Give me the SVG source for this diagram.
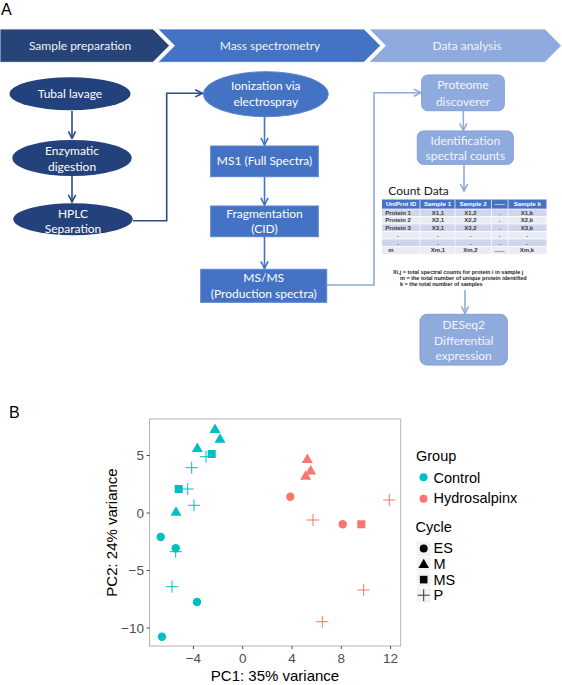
<svg xmlns="http://www.w3.org/2000/svg" width="562" height="685" viewBox="0 0 562 685">
<defs>
<style>
.lab{font-family:Lato,"Open Sans","Liberation Sans",sans-serif;font-size:12px;fill:#ffffff;text-anchor:middle}
.lab2{font-family:Lato,"Open Sans","Liberation Sans",sans-serif;font-size:12px;fill:#F2F5FB;text-anchor:middle}
.hdr{font-family:Lato,"Open Sans","Liberation Sans",sans-serif;font-size:12px;fill:#F0F3FA;text-anchor:middle}
.tb{font-family:"Liberation Sans",Arial,sans-serif;font-size:6px;fill:#3a3a3a;font-weight:bold;text-anchor:middle}
.th{font-family:"Liberation Sans",Arial,sans-serif;font-size:6.2px;fill:#fff;font-weight:bold;text-anchor:middle}
.fn{font-family:"Liberation Sans",Arial,sans-serif;font-size:5.5px;fill:#222;font-weight:bold}
.tick{font-family:"Liberation Sans",Arial,sans-serif;font-size:13.5px;fill:#4D4D4D}
.ttl{font-family:"Liberation Sans",Arial,sans-serif;font-size:15px;fill:#000;text-anchor:middle}
.leg{font-family:"Liberation Sans",Arial,sans-serif;font-size:14.5px;fill:#000}
.dk{fill:#23417A}
.md{fill:#4472C4;stroke:#5B84CC;stroke-width:1}
.lt{fill:#8FAADC;stroke:#7F9DD6;stroke-width:1}
.cdk{fill:none;stroke:#2B4A86;stroke-width:1.6}
.cmd{fill:none;stroke:#4472C4;stroke-width:1.6}
.clt{fill:none;stroke:#8FAADC;stroke-width:1.6}
.cy{fill:#00BFC4}
.rd{fill:#F8766D}
.cyp{stroke:#00BFC4;stroke-width:1;fill:none}
.rdp{stroke:#F8766D;stroke-width:1;fill:none}
</style>
<marker id="adk" viewBox="0 0 10 10" refX="9" refY="5" markerWidth="9" markerHeight="9" markerUnits="userSpaceOnUse" orient="auto"><path d="M1,1 L9,5 L1,9" fill="none" stroke="#2B4A86" stroke-width="1.8"/></marker>
<marker id="amd" viewBox="0 0 10 10" refX="9" refY="5" markerWidth="9" markerHeight="9" markerUnits="userSpaceOnUse" orient="auto"><path d="M1,1 L9,5 L1,9" fill="none" stroke="#4472C4" stroke-width="1.8"/></marker>
<marker id="alt" viewBox="0 0 10 10" refX="9" refY="5" markerWidth="9" markerHeight="9" markerUnits="userSpaceOnUse" orient="auto"><path d="M1,1 L9,5 L1,9" fill="none" stroke="#8FAADC" stroke-width="1.8"/></marker>
</defs>
<rect width="562" height="685" fill="#ffffff"/>
<text x="1" y="15" font-family="'Liberation Sans',Arial,sans-serif" font-size="16" fill="#000">A</text>
<text x="9" y="418" font-family="'Liberation Sans',Arial,sans-serif" font-size="16" fill="#000">B</text>

<g id="banner">
<g id="chev-sample"><polygon points="0,29 153,29 169.5,45.7 153,62.3 0,62.3" fill="#264478" stroke="#ffffff" stroke-width="0.8"/><text class="hdr" x="80" y="49.8">Sample preparation</text></g>
<g id="chev-ms"><polygon points="158,29 364,29 380.5,45.7 364,62.3 158,62.3 174.5,45.7" fill="#4472C4" stroke="#ffffff" stroke-width="0.8"/><text class="hdr" x="270" y="49.8">Mass spectrometry</text></g>
<g id="chev-data"><polygon points="369,29 545,29 561.5,45.7 545,62.3 369,62.3 385.5,45.7" fill="#8FAADC" stroke="#ffffff" stroke-width="0.8"/><text class="hdr" x="467" y="49.8">Data analysis</text></g>
</g>

<g id="connectors">
<line class="cdk" x1="72" y1="111" x2="72" y2="138.5" marker-end="url(#adk)"/>
<line class="cdk" x1="72" y1="176" x2="72" y2="202" marker-end="url(#adk)"/>
<polyline class="cdk" points="133,220.7 166.7,220.7 166.7,93.3 202.5,93.3" marker-end="url(#adk)"/>
<line class="cmd" x1="264.5" y1="117" x2="264.5" y2="145" marker-end="url(#amd)"/>
<line class="cmd" x1="264.5" y1="177" x2="264.5" y2="205" marker-end="url(#amd)"/>
<line class="cmd" x1="264.5" y1="237" x2="264.5" y2="268.5" marker-end="url(#amd)"/>
<polyline class="clt" points="326.7,285 374,285 374,92.7 421,92.7" marker-end="url(#alt)"/>
<line class="clt" x1="463.3" y1="111" x2="463.3" y2="130.5" marker-end="url(#alt)"/>
<line class="clt" x1="464" y1="164.5" x2="464" y2="191" marker-end="url(#alt)"/>
<line class="clt" x1="465" y1="290" x2="465" y2="313.5" marker-end="url(#alt)"/>
</g>

<g id="n-tubal"><ellipse class="dk" cx="70" cy="93.7" rx="60.5" ry="16.5"/><text class="lab" x="70" y="97.8">Tubal lavage</text></g>
<g id="n-enzymatic"><ellipse class="dk" cx="72" cy="158" rx="59.7" ry="18"/><text class="lab" x="72" y="155">Enzymatic</text><text class="lab" x="72" y="171">digestion</text></g>
<g id="n-hplc"><ellipse class="dk" cx="73" cy="219.2" rx="59.7" ry="16"/><text class="lab" x="73" y="218">HPLC</text><text class="lab" x="73" y="232.5">Separation</text></g>

<g id="n-ionization"><ellipse cx="265.8" cy="94.2" rx="62.5" ry="22.5" fill="#4472C4" stroke="#5B84CC"/><text class="lab" x="265.8" y="90.2">Ionization via</text><text class="lab" x="265.8" y="106.4">electrospray</text></g>
<g id="n-ms1"><rect class="md" x="210.7" y="146" width="107.6" height="30.7"/><text class="lab" x="264.5" y="165">MS1 (Full Spectra)</text></g>
<g id="n-frag"><rect class="md" x="210.7" y="206" width="107.6" height="30.7"/><text class="lab" x="264.5" y="217.5">Fragmentation</text><text class="lab" x="264.5" y="233">(CID)</text></g>
<g id="n-msms"><rect class="md" x="200.7" y="269.3" width="126" height="33"/><text class="lab" x="263.7" y="282.4">MS/MS</text><text class="lab" x="263.7" y="298">(Production spectra)</text></g>

<g id="n-proteome"><rect class="lt" x="421.7" y="75" width="82.6" height="35.7" rx="6"/><text class="lab2" x="463" y="89.2">Proteome</text><text class="lab2" x="463" y="105.8">discoverer</text></g>
<g id="n-ident"><rect class="lt" x="417.3" y="131" width="96" height="33.3" rx="6"/><text class="lab2" x="465.3" y="144.8">Identification</text><text class="lab2" x="465.3" y="160.2">spectral counts</text></g>

<g id="n-countdata">
<text x="388.3" y="195" font-family="Lato,'Open Sans','Liberation Sans',sans-serif" font-size="12" fill="#1a1a1a">Count Data</text>
<rect x="382" y="199.5" width="164.5" height="9.5" fill="#4472C4"/>
<rect x="382" y="209" width="164.5" height="7.5" fill="#CFD5EA"/>
<rect x="382" y="216.5" width="164.5" height="7.5" fill="#E9EBF5"/>
<rect x="382" y="224" width="164.5" height="7.5" fill="#CFD5EA"/>
<rect x="382" y="231.5" width="164.5" height="7.5" fill="#E9EBF5"/>
<rect x="382" y="239" width="164.5" height="7.5" fill="#CFD5EA"/>
<rect x="382" y="246.5" width="164.5" height="7.5" fill="#E9EBF5"/>
<g stroke="#ffffff" stroke-width="0.7">
<line x1="382" y1="209" x2="546.5" y2="209"/><line x1="382" y1="216.5" x2="546.5" y2="216.5"/><line x1="382" y1="224" x2="546.5" y2="224"/><line x1="382" y1="231.5" x2="546.5" y2="231.5"/><line x1="382" y1="239" x2="546.5" y2="239"/><line x1="382" y1="246.5" x2="546.5" y2="246.5"/>
<line x1="420" y1="199.5" x2="420" y2="254"/><line x1="455" y1="199.5" x2="455" y2="254"/><line x1="491.5" y1="199.5" x2="491.5" y2="254"/><line x1="508" y1="199.5" x2="508" y2="254"/>
</g>
<text class="th" x="401" y="206.2">UniProt ID</text><text class="th" x="437.5" y="206.2">Sample 1</text><text class="th" x="473" y="206.2">Sample 2</text><text class="th" x="499.7" y="206.2">-----</text><text class="th" x="527.3" y="206.2">Sample k</text>
<text class="tb" x="398" y="214.8">Protein 1</text><text class="tb" x="438" y="214.8">X1,1</text><text class="tb" x="470.5" y="214.8">X1,2</text><text class="tb" x="499.7" y="214.8">.</text><text class="tb" x="527" y="214.8">X1,k</text>
<text class="tb" x="398" y="222.3">Protein 2</text><text class="tb" x="438" y="222.3">X2,1</text><text class="tb" x="470.5" y="222.3">X2,2</text><text class="tb" x="499.7" y="222.3">.</text><text class="tb" x="527" y="222.3">X2,k</text>
<text class="tb" x="398" y="229.8">Protein 3</text><text class="tb" x="438" y="229.8">X3,1</text><text class="tb" x="470.5" y="229.8">X3,2</text><text class="tb" x="499.7" y="229.8">.</text><text class="tb" x="527" y="229.8">X3,k</text>
<text class="tb" x="398" y="237.3">.</text><text class="tb" x="438" y="237.3">.</text><text class="tb" x="470.5" y="237.3">.</text><text class="tb" x="499.7" y="237.3">.</text><text class="tb" x="527" y="237.3">.</text>
<text class="tb" x="398" y="244.8">.</text><text class="tb" x="438" y="244.8">.</text><text class="tb" x="470.5" y="244.8">.</text><text class="tb" x="499.7" y="244.8">.</text><text class="tb" x="527" y="244.8">.</text>
<text class="tb" x="391" y="252.3">m</text><text class="tb" x="438" y="252.3">Xm,1</text><text class="tb" x="470.5" y="252.3">Xm,2</text><text class="tb" x="499.7" y="252.3">......</text><text class="tb" x="527" y="252.3">Xm,k</text>
<text class="fn" x="393" y="274">Xi,j = total spectral counts for protein i in sample j</text>
<text class="fn" x="400" y="280">m = the total number of unique protein identified</text>
<text class="fn" x="400" y="286">k = the total number of samples</text>
</g>

<g id="n-deseq"><rect class="lt" x="420" y="314.3" width="87.3" height="50.7" rx="7"/><text class="lab2" x="463.7" y="329.2">DESeq2</text><text class="lab2" x="463.7" y="344.8">Differential</text><text class="lab2" x="463.7" y="360.2">expression</text></g>

<g id="pca-plot">
<rect x="149.5" y="419" width="251.2" height="227" fill="#ffffff" stroke="#B3B3B3" stroke-width="1"/>
<g stroke="#4D4D4D" stroke-width="1">
<line x1="146.5" y1="455.5" x2="149.5" y2="455.5"/><line x1="146.5" y1="513" x2="149.5" y2="513"/><line x1="146.5" y1="570.5" x2="149.5" y2="570.5"/><line x1="146.5" y1="628" x2="149.5" y2="628"/>
<line x1="193.4" y1="646" x2="193.4" y2="649"/><line x1="242.7" y1="646" x2="242.7" y2="649"/><line x1="292" y1="646" x2="292" y2="649"/><line x1="341.3" y1="646" x2="341.3" y2="649"/><line x1="390.6" y1="646" x2="390.6" y2="649"/>
</g>
<g class="tick" text-anchor="end">
<text x="144" y="460.3">5</text><text x="144" y="517.8">0</text><text x="144" y="575.3">−5</text><text x="144" y="632.8">−10</text>
</g>
<g class="tick" text-anchor="middle">
<text x="193.4" y="663">−4</text><text x="242.7" y="663">0</text><text x="292" y="663">4</text><text x="341.3" y="663">8</text><text x="390.6" y="663">12</text>
</g>
<text class="ttl" x="275" y="681">PC1: 35% variance</text>
<text class="ttl" transform="translate(116.5,532.5) rotate(-90)">PC2: 24% variance</text>

<g id="pts-control">
<polygon class="cy" points="215,423.5 209.5,433 220.5,433"/>
<polygon class="cy" points="220,433.2 214.5,442.7 225.5,442.7"/>
<polygon class="cy" points="197.3,442.5 191.8,452 202.8,452"/>
<polygon class="cy" points="176,506.2 170.5,515.7 181.5,515.7"/>
<rect class="cy" x="207.7" y="450" width="8" height="8"/>
<rect class="cy" x="174.7" y="485" width="8" height="8"/>
<circle class="cy" cx="160.7" cy="537" r="4.2"/>
<circle class="cy" cx="175.7" cy="548.3" r="4.2"/>
<circle class="cy" cx="197" cy="602" r="4.2"/>
<circle class="cy" cx="162" cy="636.7" r="4.2"/>
<path class="cyp" d="M200,456.7 h12 M206,450.7 v12 M185.7,467.7 h12 M191.7,461.7 v12 M181.7,489 h12 M187.7,483 v12 M188,505.3 h12 M194,499.3 v12 M169.7,551.7 h12 M175.7,545.7 v12 M166,586.7 h12 M172,580.7 v12"/>
</g>
<g id="pts-hydro">
<polygon class="rd" points="307.3,453.5 301.8,463 312.8,463"/>
<polygon class="rd" points="310.7,464.9 305.2,474.4 316.2,474.4"/>
<polygon class="rd" points="305.7,470.2 300.2,479.7 311.2,479.7"/>
<circle class="rd" cx="290.3" cy="496.7" r="4.2"/>
<circle class="rd" cx="342.7" cy="524.3" r="4.2"/>
<rect class="rd" x="357.3" y="520.3" width="8" height="8"/>
<path class="rdp" d="M383.3,500 h12 M389.3,494 v12 M307,520 h12 M313,514 v12 M357.7,590 h12 M363.7,584 v12 M316.3,621.7 h12 M322.3,615.7 v12"/>
</g>
</g>

<g id="legend">
<text class="leg" x="416" y="460.7">Group</text>
<circle class="cy" cx="423.5" cy="477.3" r="4"/><text class="leg" x="433.5" y="482.7">Control</text>
<circle class="rd" cx="423.5" cy="498.7" r="4"/><text class="leg" x="433.5" y="503.3">Hydrosalpinx</text>
<text class="leg" x="415.5" y="532.3">Cycle</text>
<rect x="416.7" y="541.5" width="14" height="14.5" fill="#F2F2F2"/>
<rect x="416.7" y="557" width="14" height="14.5" fill="#F2F2F2"/>
<rect x="416.7" y="572.5" width="14" height="14.5" fill="#F2F2F2"/>
<rect x="416.7" y="588" width="14" height="14.5" fill="#F2F2F2"/>
<circle cx="423.7" cy="548.5" r="4" fill="#000"/>
<polygon points="423.7,558.7 418.4,568 429,568" fill="#000"/>
<rect x="419.9" y="575.8" width="7.6" height="7.6" fill="#000"/>
<path d="M417.7,595.2 h12 M423.7,589.2 v12" stroke="#333" stroke-width="1" fill="none"/>
<text class="leg" x="433.5" y="553.3">ES</text>
<text class="leg" x="433.5" y="569">M</text>
<text class="leg" x="433.5" y="584.5">MS</text>
<text class="leg" x="433.5" y="600.2">P</text>
</g>
</svg>
